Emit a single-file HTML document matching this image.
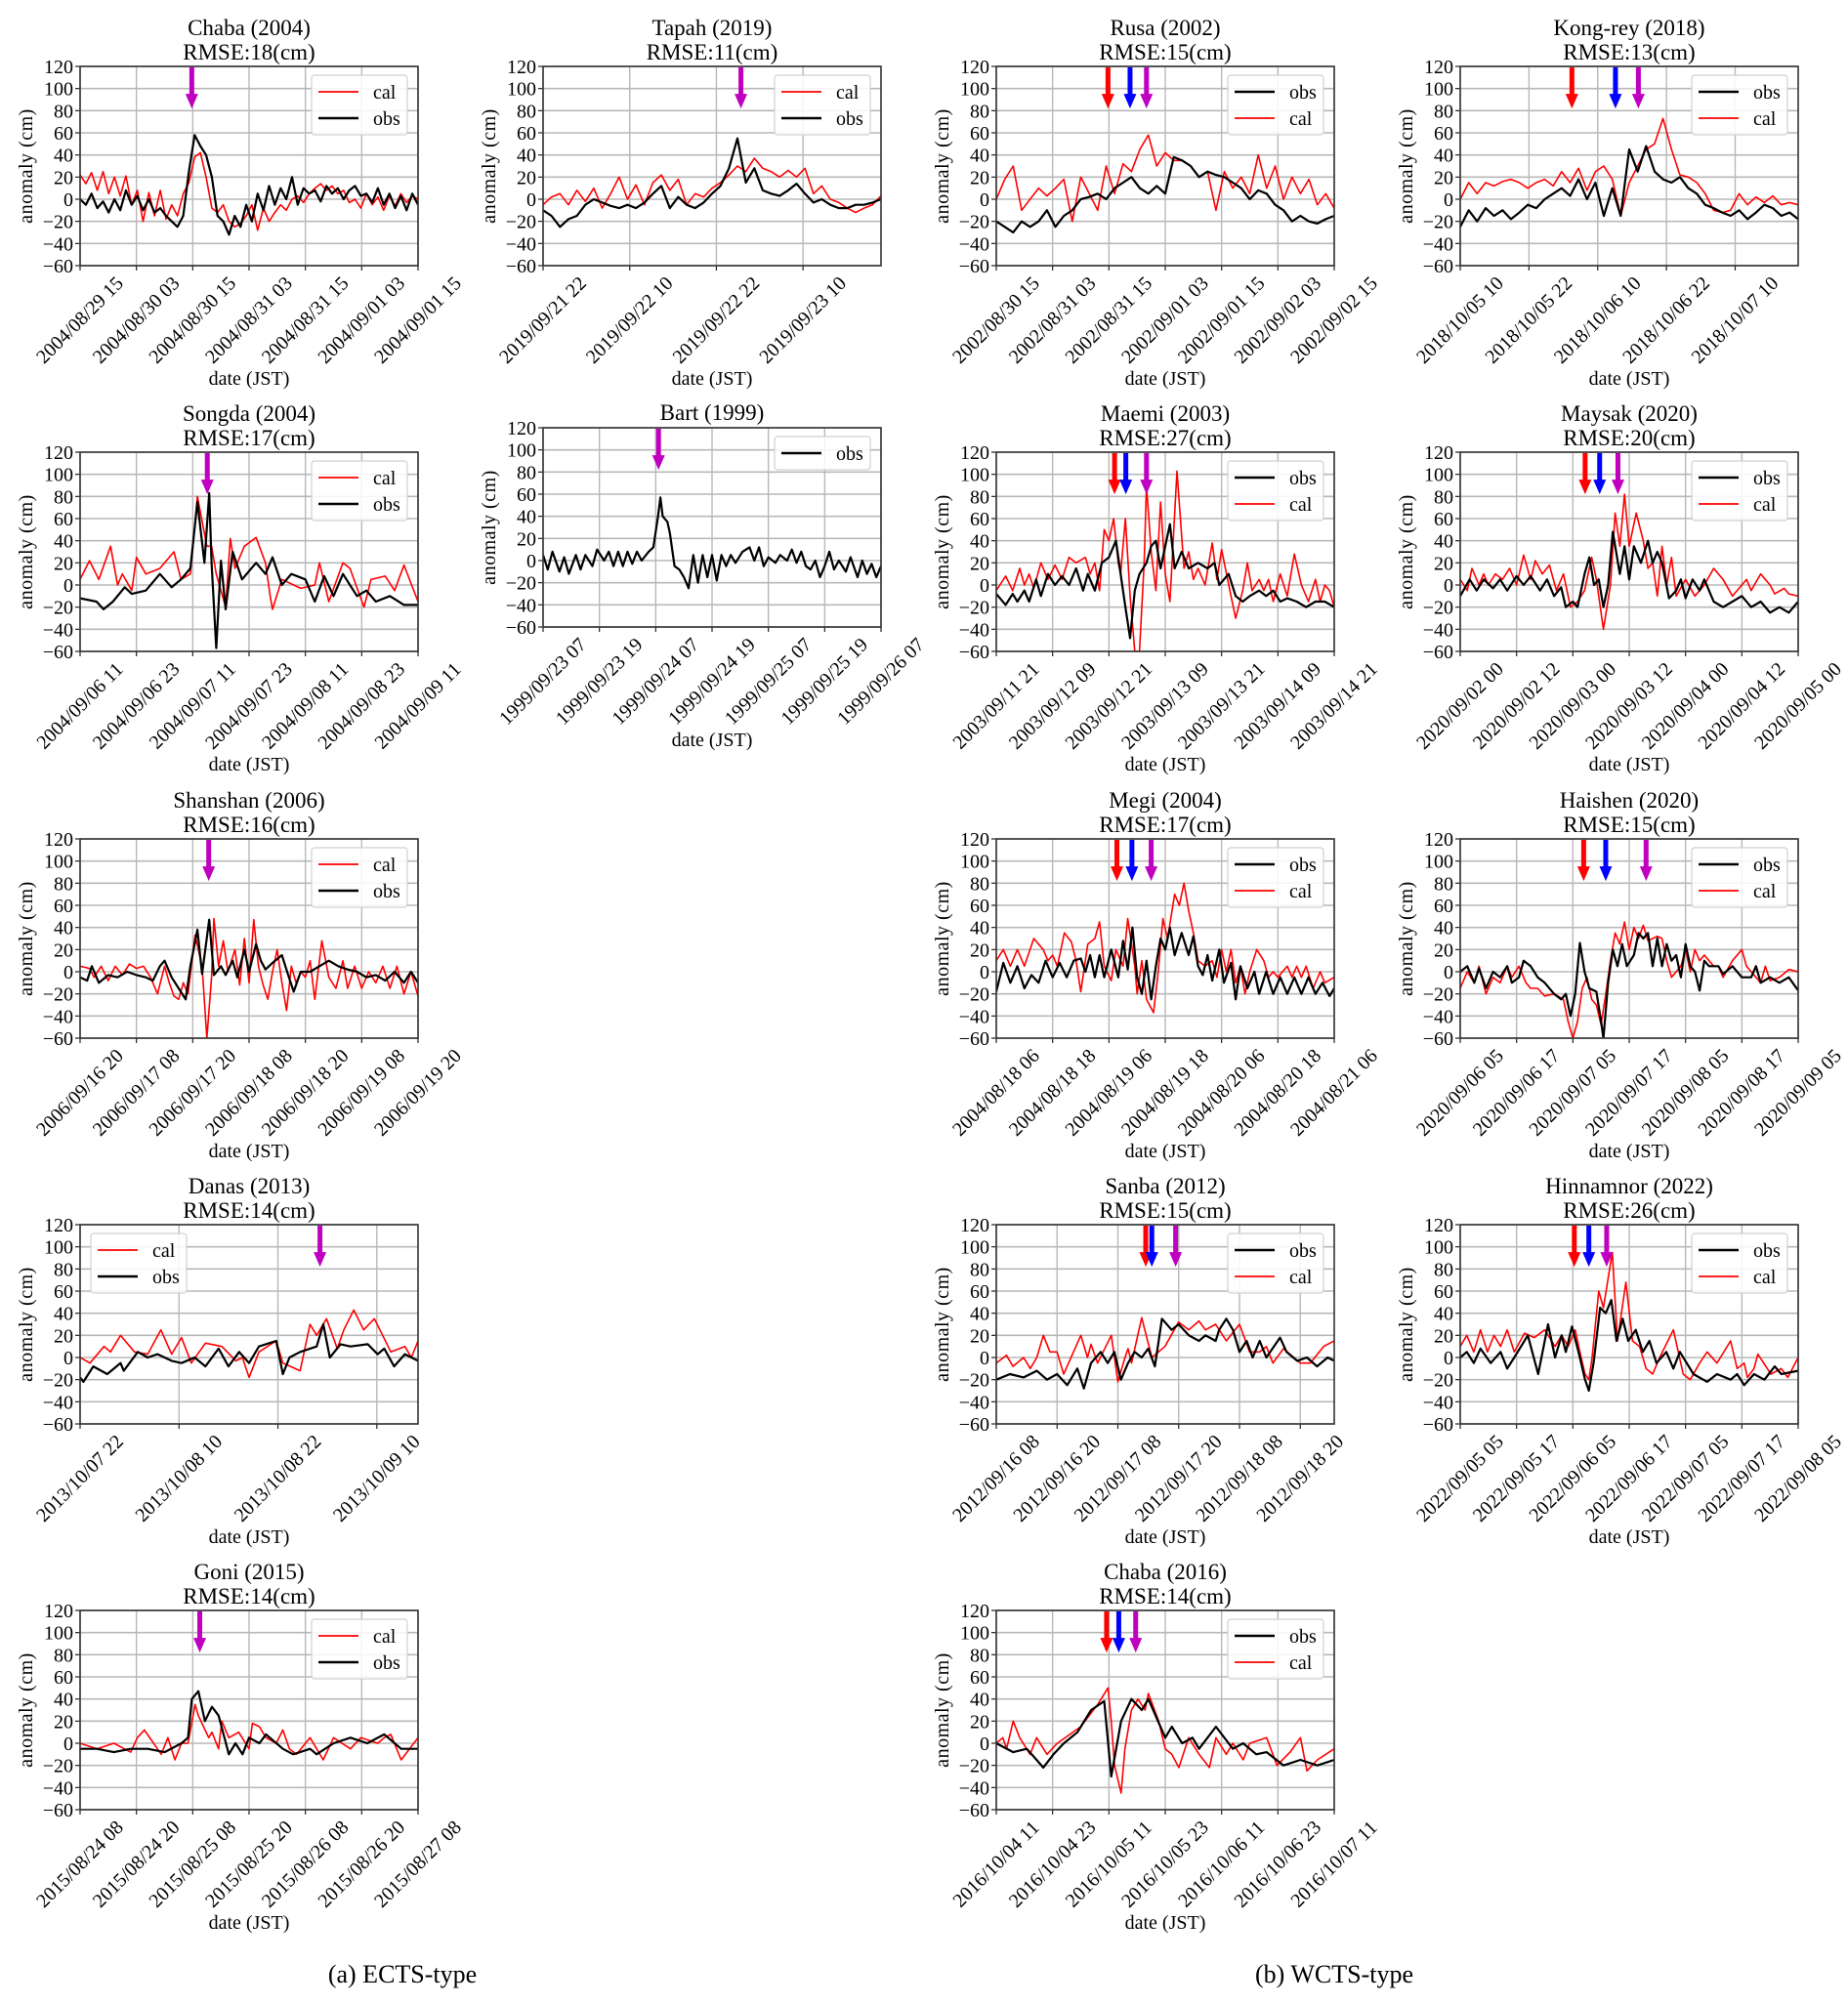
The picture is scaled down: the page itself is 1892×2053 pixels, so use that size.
<!DOCTYPE html>
<html><head><meta charset="utf-8"><style>
html,body{margin:0;padding:0;background:#fff;}
svg{display:block;font-family:"Liberation Serif","DejaVu Serif",serif;}
</style></head><body>
<svg id="fig" width="1892" height="2053" viewBox="0 0 1892 2053" xmlns="http://www.w3.org/2000/svg">
<rect width="1892" height="2053" fill="#fff"/>
<text x="412" y="2030" font-size="26" text-anchor="middle">(a) ECTS-type</text>
<text x="1366" y="2030" font-size="26" text-anchor="middle">(b) WCTS-type</text>
</svg>
<script>
// ---- data (hours from window start, anomaly cm) or evenly spaced values ----
const chaba04Cal=[22,14,24,8,25,5,20,3,21,-5,8,-20,6,-15,8,-18,-5,-15,5,15,38,42,20,-8,-12,-5,-20,-25,-22,-15,-5,-28,-8,-20,-12,-5,-10,0,3,-3,5,10,14,8,12,5,8,-3,0,-8,5,-5,2,-10,3,-6,5,-3,3,0];
const chaba04Obs=[0,-5,5,-8,-2,-12,0,-10,8,-5,3,-10,0,-12,-8,-15,-20,-25,-15,25,58,48,40,20,-15,-20,-32,-15,-25,-5,-20,5,-10,12,-5,10,0,20,-5,10,5,8,-2,12,5,10,0,8,12,3,5,-3,10,-5,5,-8,3,-10,5,-5];
const tapahCal=[-5,2,5,-5,8,-2,10,-8,5,20,0,13,-5,15,22,8,18,-5,5,2,10,15,22,30,25,37,28,25,20,26,20,28,5,12,0,-3,-8,-12,-8,-5,3];
const tapahObs=[-10,-15,-25,-18,-15,-5,0,-3,-6,-8,-5,-8,-3,5,12,-8,2,-5,-8,-3,5,12,28,55,15,28,8,5,3,8,14,5,-3,0,-5,-8,-8,-5,-5,-3,0];
const rusaCal=[0,18,30,-10,0,10,3,10,18,-20,20,5,-10,30,5,32,25,45,58,30,42,35,35,30,20,25,-10,25,10,20,5,40,10,30,0,20,5,18,-5,5,-8];
const rusaObs=[-20,-25,-30,-20,-25,-20,-10,-25,-15,-10,0,2,5,0,10,15,20,10,5,12,5,38,35,30,20,25,22,20,15,10,0,8,5,-5,-10,-20,-15,-20,-22,-18,-15];
const kongreyCal=[0,15,5,15,12,16,18,15,10,15,18,12,25,15,28,8,25,30,18,-15,15,30,45,50,73,45,22,20,15,5,-10,-12,-10,5,-5,2,-3,3,-5,-3,-5];
const kongreyObs=[-25,-10,-20,-8,-15,-10,-18,-12,-5,-8,0,5,10,3,18,0,15,-15,10,-15,45,25,48,25,18,15,20,10,5,-5,-8,-12,-15,-10,-18,-12,-5,-8,-15,-12,-18];
const songdaCal=[[0,5],[2,22],[4,5],[6.5,35],[8,0],[9,10],[11,-5],[12,25],[14,10],[17,15],[20,30],[21.5,5],[23.5,10],[25,80],[27,35],[28,35],[29,10],[31,-20],[32,42],[33,15],[35,35],[37.5,43],[39.5,20],[40.5,-10],[41,-22],[43,5],[47,-3],[50,0],[51,20],[53,-15],[56,20],[57.5,15],[60.5,-20],[62,5],[65,8],[67,-5],[69,18],[72,-15]];
const songdaObs=[[0,-12],[3.5,-15],[5,-22],[7,-15],[9.5,-2],[11,-8],[14,-5],[17,10],[19.5,-2],[21.5,5],[23.5,15],[25,75],[26.5,20],[27.5,83],[28,20],[29,-57],[30,22],[31,-22],[32.5,30],[34.5,5],[37.5,20],[39.5,10],[41,25],[43,0],[45,10],[48,5],[50,-15],[52,8],[54,-10],[56,10],[59,-10],[61,-5],[63,-15],[66,-10],[69,-18],[72,-18]];
const bartObs=[[0,5],[1,-8],[2,8],[3.5,-10],[4.5,3],[5.5,-12],[7,5],[8,-8],[9,5],[10.5,-5],[11.5,10],[13,0],[14,8],[15,-5],[16,8],[17,-5],[18,8],[19,-3],[20,8],[21,0],[22.5,8],[23.5,12],[24.5,40],[25,57],[25.5,40],[26.5,35],[27,25],[28,-5],[29,-8],[30,-15],[31,-25],[32,5],[33,-20],[34,5],[35,-15],[36,5],[37,-18],[38,5],[39,-5],[40,5],[41,-2],[42.5,8],[44,12],[45,0],[46,12],[47,-5],[48,3],[49.5,-2],[50.5,5],[52,0],[53,10],[54,-2],[55,8],[56,-5],[57,-8],[58,0],[59,-15],[60,-5],[61,8],[62,-8],[63,0],[64.5,-10],[65.5,3],[67,-15],[68,0],[69,-12],[70,-3],[71,-15],[72,-5]];
const maemiCal=[[0,-5],[2,8],[3.5,-5],[5,15],[6,0],[7,10],[8,-3],[9.5,20],[11,5],[12.5,18],[14,5],[15.5,25],[17,20],[19,25],[20,10],[21,20],[22,-5],[23,50],[24,40],[25,60],[26,20],[26.5,10],[27.5,60],[28.5,-10],[29.5,-60],[30.5,-60],[31.5,20],[32,90],[33,30],[34,-5],[35,75],[36,10],[37,-15],[38.5,103],[40,15],[41,30],[42,5],[43,15],[44.5,0],[46,38],[47,5],[48,32],[50,-10],[51,-30],[52.5,-5],[53.5,20],[54.5,-5],[56,5],[57,-5],[58,5],[59,-15],[60.5,10],[62,-10],[63.5,28],[65,0],[66.5,-15],[68,5],[69,-15],[70,0],[71,-5],[72,-20]];
const maemiObs=[[0,-8],[2,-18],[3.5,-8],[4.5,-15],[6,-5],[7,-15],[8.5,5],[9.5,-10],[11,10],[12.5,0],[14,8],[15.5,0],[17,15],[18.5,-5],[19.5,10],[21,-5],[22.5,20],[24,25],[25.5,40],[26.5,10],[27.5,-20],[28.5,-48],[29.5,-5],[30.5,10],[32,20],[33,35],[34,40],[35,15],[36,35],[37,55],[38,15],[39.5,30],[41,15],[43,20],[45,15],[46.5,20],[47.5,0],[49.5,10],[51,-10],[52.5,-15],[54,-10],[56,-5],[57.5,-10],[59,-5],[60.5,-15],[62,-12],[64,-15],[66,-20],[68,-15],[70,-15],[72,-20]];
const maysakCal=[[0,5],[1.5,-5],[2.5,15],[4,0],[5,10],[6,0],[7.5,10],[9,5],[10.5,15],[12,0],[13.5,27],[15,5],[16,22],[17.5,10],[19,18],[20.5,-5],[22,10],[23.5,-20],[25,-15],[26.5,-5],[28,25],[29,5],[30.5,-40],[32,0],[33,65],[34,35],[35,82],[36,35],[37.5,65],[39,40],[40,15],[41,20],[42,-10],[43,35],[44,0],[45,25],[46,-10],[48,5],[50,-10],[52,0],[54,15],[56,5],[58,-10],[60,0],[61,5],[62,-5],[64,10],[66,0],[67,-8],[69,-3],[70,-8],[72,-10]];
const maysakObs=[[0,-10],[2,5],[3.5,-5],[5,5],[7,-3],[8.5,5],[10,-5],[12,8],[13.5,0],[15,8],[17,-5],[18.5,5],[20,-10],[21.5,-2],[22.5,-20],[24,-15],[25,-20],[26.5,10],[27.5,25],[28.5,0],[29.5,5],[30.5,-20],[31.5,0],[32.5,48],[34,10],[35,35],[36,5],[37,35],[38.5,20],[40,40],[41,20],[42,30],[43,20],[44.5,-12],[46,-5],[47,5],[48,-12],[49.5,5],[51,-5],[52,5],[54,-15],[56,-20],[58,-15],[60,-10],[62,-20],[64,-15],[66,-25],[68,-20],[70,-25],[72,-15]];
const shanshanCal=[[0,5],[2,3],[3,-5],[4.5,5],[6,-8],[7.5,5],[9,-3],[10.5,7],[12,3],[13.5,5],[15,-5],[16.5,-20],[18,5],[19,-10],[20,-22],[21,-25],[22,-10],[23,-20],[24.5,33],[26,5],[27,-60],[28,-5],[28.5,48],[29.5,5],[30.5,28],[31.5,0],[33,20],[34,-12],[35,30],[36,-10],[37,47],[38,5],[39,-12],[40,-25],[41,0],[42,20],[43,-10],[44,-35],[45,5],[46,-10],[47,0],[48,-5],[49,10],[50,-25],[51.5,28],[53,-5],[54.5,-15],[56,10],[57,-15],[58.5,5],[60,-15],[61.5,0],[63,-10],[64.5,5],[66,-15],[67.5,5],[69,-20],[70.5,0],[72,-22]];
const shanshanObs=[[0,-5],[1.5,-8],[2.5,5],[4,-10],[6,-3],[8,-5],[10,0],[12,-3],[14,-5],[15.5,-8],[17,5],[18,10],[19.5,-5],[21,-15],[22.5,-25],[23.5,5],[25,38],[26,-2],[27.5,47],[28.5,-3],[30,5],[31,-3],[32.5,10],[33.5,-5],[35,20],[36,0],[37.5,25],[38.5,10],[39.5,2],[41,8],[43,15],[44.5,-5],[45.5,-18],[47,0],[49,0],[51,5],[53,10],[55,5],[57,2],[59,0],[61,-5],[63,-3],[65,-8],[67,0],[69,-10],[70.5,0],[72,-10]];
const danasCal=[[0,0],[1.2,-5],[2.9,10],[3.7,5],[4.9,20],[6.6,5],[8.2,3],[9.8,25],[11.1,3],[12.3,18],[13.5,-5],[15.2,13],[17.2,10],[18.9,-3],[19.7,0],[20.5,-18],[21.7,5],[23.8,15],[24.6,-5],[26.7,-12],[27.9,30],[28.7,20],[29.9,35],[31.2,8],[32,25],[33.2,43],[34.4,25],[35.7,35],[37.7,5],[39.4,10],[40.2,0],[41,15]];
const danasObs=[[0,-18],[0.4,-22],[1.6,-8],[3.3,-15],[4.9,-5],[5.3,-12],[7,5],[8.2,0],[9.4,3],[11.1,-3],[12.3,-5],[13.9,0],[15.2,-8],[16.8,8],[18,-8],[19.3,5],[20.5,-5],[21.7,10],[23.8,15],[24.6,-15],[25.4,0],[26.7,5],[28.7,10],[29.5,30],[30.3,0],[31.6,12],[32.8,10],[34.9,12],[36.1,3],[36.9,8],[38.1,-8],[39.4,3],[41,-3]];
const megiCal=[[0,10],[1.5,20],[3,5],[4.5,20],[6,5],[8,30],[10,20],[11,10],[12,15],[13,5],[14.5,35],[16,27],[17,10],[18,-18],[19.5,25],[21,30],[22,45],[23,5],[24.5,-8],[25.5,20],[27,5],[28,48],[29.5,5],[30,-20],[31,10],[32,-25],[33.5,-37],[34.5,0],[35.5,48],[36.5,30],[38,70],[39,60],[40,80],[41,55],[42,35],[43,10],[44.5,5],[46,10],[47,-5],[48,20],[49,0],[50,20],[51,-10],[52,5],[53,-20],[54,0],[55.5,20],[57,10],[58,-5],[59,0],[60,-5],[62,5],[63,-5],[64,5],[65,-5],[66,5],[67.5,-15],[69,0],[70,-10],[72,-5]];
const megiObs=[[0,-18],[1.5,8],[3,-10],[4.5,5],[6,-15],[7.5,-3],[9,-10],[10.5,10],[12,-5],[13.5,8],[15,-5],[16.5,10],[18,12],[19,0],[20,15],[21,-5],[22,15],[23,-5],[24.5,20],[26,-5],[27,28],[28,2],[29,40],[30,-5],[31,-20],[32,10],[33,-25],[34,5],[35,30],[36,20],[37,40],[38,15],[39.5,35],[41,15],[42,32],[43,5],[44,-3],[45,15],[46,-8],[47.5,20],[48.5,-10],[50,8],[51,-25],[52,5],[53.5,-15],[55,0],[56,-20],[57.5,0],[59,-20],[60.5,-5],[62,-20],[63.5,-5],[65,-20],[66.5,-5],[68,-20],[69.5,-10],[71,-22],[72,-15]];
const haishenCal=[[0,-15],[1.5,0],[3,-10],[4,5],[5.5,-20],[7,-5],[8.5,-10],[10,5],[11,-5],[12.5,5],[14,-10],[15,-15],[16.5,-15],[18,-22],[20,-20],[22,-25],[23,-45],[24,-60],[25,-45],[26,-15],[27,-5],[28,-25],[29,-30],[30,-48],[31,-20],[32,10],[33,35],[34,25],[35,45],[36,20],[37,40],[38,30],[39,42],[40,28],[41,30],[42,32],[43,30],[44,10],[45,-5],[46,0],[47,5],[48,20],[49,0],[50,20],[51,10],[52,15],[54,5],[55,5],[56,-5],[58,10],[60,20],[61,5],[62,0],[64,-10],[65,5],[66,-8],[68,-5],[70,2],[72,0]];
const haishenObs=[[0,0],[1.5,5],[3,-10],[4,3],[5.5,-15],[7,0],[8.5,-5],[10,5],[11,-10],[12.5,-5],[13.5,10],[15,5],[16.5,-5],[18,-10],[20,-20],[21.5,-25],[22.5,-20],[23.5,-40],[24.5,-20],[25.5,26],[26.5,0],[27.5,-15],[29,-18],[30,-45],[30.5,-60],[31.5,-10],[32.5,20],[33.5,5],[34.5,25],[35.5,5],[37,15],[38,35],[39,30],[40,35],[41,5],[42,30],[43,5],[44,25],[45,10],[46,15],[47,-5],[48,25],[49,5],[50,0],[51,-17],[52,10],[53,5],[55,5],[56,-2],[58,5],[59,0],[60,-5],[62,-5],[63,5],[64,-10],[66,-5],[68,-10],[70,-5],[72,-17]];
const sanbaCal=[[0,-5],[2,2],[3.3,-8],[5.4,0],[6.7,-10],[8,0],[9.3,20],[10.6,5],[12,5],[13.3,-15],[16.7,20],[18,0],[18.7,12],[20,-5],[22.7,20],[24,-22],[25.4,0],[26,8],[26.7,-5],[28.7,36],[30.7,0],[33.3,10],[36,32],[38,25],[40,33],[41.3,25],[43.3,30],[45.4,15],[48,30],[50,5],[52,5],[53.3,10],[54.6,-5],[56.7,8],[58.7,0],[60,-5],[62,-5],[64.6,10],[66.7,15]];
const sanbaObs=[[0,-20],[2.7,-15],[5.4,-18],[8,-12],[10,-20],[12,-15],[14,-25],[16,-10],[17.3,-28],[18.7,-5],[20.6,5],[22,-5],[23.3,5],[24.6,-20],[26,-5],[27.3,5],[28.7,0],[30,8],[31.3,-8],[32.7,35],[34.6,25],[36,30],[38,20],[40,15],[41.3,20],[43.3,15],[44,25],[45.4,35],[46.7,25],[48,5],[49.4,15],[50.6,0],[52,15],[53.3,0],[56,18],[57.3,5],[59.4,-3],[61.3,0],[63.3,-8],[65.4,0],[66.7,-3]];
const hinnamnorCal=[[0,10],[1.4,20],[2.9,5],[4.3,25],[5.8,5],[7.2,20],[8.6,10],[10,25],[11.5,5],[13.7,22],[15.8,18],[18,25],[20.2,10],[21.6,20],[23,10],[24.5,25],[25.5,5],[26.6,-15],[27.4,-20],[28.1,0],[29.5,60],[30.5,45],[32.4,95],[33.5,15],[35.3,68],[36.7,15],[38.2,10],[39.6,-10],[41,-15],[42.5,0],[45.4,25],[47.5,-15],[49,-20],[51,-5],[52.6,5],[54.7,-5],[57.6,15],[59,-10],[60.5,-5],[61.2,-18],[62.6,-10],[63.4,3],[66.2,-15],[68.4,-10],[69.8,-18],[72,0]];
const hinnamnorObs=[[0,0],[1.4,5],[2.9,-5],[4.3,8],[6.5,-5],[8.6,5],[10,-10],[11.5,0],[14.4,20],[16.6,-15],[18.7,30],[20.2,0],[21.6,20],[22.5,5],[23.8,28],[25.2,5],[26.6,-20],[27.4,-30],[28.4,-5],[29.8,45],[31,40],[32.2,52],[33.3,15],[34.6,35],[35.8,15],[37.4,25],[38.9,5],[40.3,15],[41.8,-5],[43.9,5],[45.4,-10],[46.8,5],[49.7,-15],[52.6,-22],[54.7,-15],[57.6,-20],[59,-15],[60.5,-25],[62.6,-15],[64.8,-20],[67,-8],[68.4,-15],[72,-12]];
const goniCal=[[0,0],[3.6,-5],[7.2,0],[10.8,-8],[12.2,5],[13.7,12],[17.3,-10],[18.7,5],[20.2,-15],[21.6,0],[23,0],[24.5,35],[25.2,25],[27.4,5],[28.1,10],[29.5,-5],[30.2,20],[31.7,5],[33.8,10],[36,-5],[36.7,18],[38.2,15],[39.6,5],[41.8,0],[43.2,12],[44.6,-5],[46.1,-10],[49,5],[51.8,-15],[54,5],[57.6,-5],[59.8,5],[63.4,0],[64.8,5],[66.2,8],[68.4,-15],[72,5]];
const goniObs=[[0,-5],[3.6,-5],[7.2,-8],[10.8,-5],[14.4,-5],[18,-8],[21.6,0],[23,5],[23.8,40],[25.2,47],[26.6,20],[28.1,33],[29.5,25],[31.7,-10],[33.1,0],[34.6,-10],[36,5],[38.2,0],[39.6,8],[43.2,-5],[45.4,-10],[49,-5],[50.4,-10],[54,0],[57.6,5],[61.2,0],[64.8,8],[68.4,-5],[72,-5]];
const chaba16Cal=[[0,0],[1.4,5],[2.2,-5],[3.6,20],[5,5],[7.2,-10],[8.6,5],[10.8,-10],[13,0],[18,15],[21.6,35],[23.8,50],[24.5,20],[25.2,-20],[26.6,-45],[27.4,-5],[28.8,30],[30.2,40],[31.7,30],[32.4,45],[34.6,20],[36,-5],[37.4,-10],[38.9,-22],[41,5],[43.2,-10],[45.4,-22],[46.8,5],[49,-10],[50.4,0],[52.6,-15],[54,0],[57.6,5],[59.8,-20],[62.6,-8],[64.8,5],[66.2,-25],[68.4,-15],[72,-5]];
const chaba16Obs=[[0,0],[3.6,-8],[6.5,-5],[8.6,-15],[10,-22],[12.2,-10],[14.4,0],[17.3,10],[20.2,30],[23,38],[24.5,-30],[26.6,20],[28.8,40],[31,30],[32.4,40],[36,5],[37.4,15],[39.6,0],[41.8,5],[43.2,-5],[46.8,15],[50.4,-5],[52.6,0],[55.4,-10],[57.6,-8],[61.2,-20],[64.8,-15],[68.4,-20],[72,-15]];
// tick labels
const chaba04Ticks=["2004/08/29 15","2004/08/30 03","2004/08/30 15","2004/08/31 03","2004/08/31 15","2004/09/01 03","2004/09/01 15"];
const tapahTicks=["2019/09/21 22","2019/09/22 10","2019/09/22 22","2019/09/23 10"];
const rusaTicks=["2002/08/30 15","2002/08/31 03","2002/08/31 15","2002/09/01 03","2002/09/01 15","2002/09/02 03","2002/09/02 15"];
const kongreyTicks=["2018/10/05 10","2018/10/05 22","2018/10/06 10","2018/10/06 22","2018/10/07 10"];
const songdaTicks=["2004/09/06 11","2004/09/06 23","2004/09/07 11","2004/09/07 23","2004/09/08 11","2004/09/08 23","2004/09/09 11"];
const bartTicks=["1999/09/23 07","1999/09/23 19","1999/09/24 07","1999/09/24 19","1999/09/25 07","1999/09/25 19","1999/09/26 07"];
const maemiTicks=["2003/09/11 21","2003/09/12 09","2003/09/12 21","2003/09/13 09","2003/09/13 21","2003/09/14 09","2003/09/14 21"];
const maysakTicks=["2020/09/02 00","2020/09/02 12","2020/09/03 00","2020/09/03 12","2020/09/04 00","2020/09/04 12","2020/09/05 00"];
const shanshanTicks=["2006/09/16 20","2006/09/17 08","2006/09/17 20","2006/09/18 08","2006/09/18 20","2006/09/19 08","2006/09/19 20"];
const megiTicks=["2004/08/18 06","2004/08/18 18","2004/08/19 06","2004/08/19 18","2004/08/20 06","2004/08/20 18","2004/08/21 06"];
const haishenTicks=["2020/09/06 05","2020/09/06 17","2020/09/07 05","2020/09/07 17","2020/09/08 05","2020/09/08 17","2020/09/09 05"];
const danasTicks=["2013/10/07 22","2013/10/08 10","2013/10/08 22","2013/10/09 10"];
const sanbaTicks=["2012/09/16 08","2012/09/16 20","2012/09/17 08","2012/09/17 20","2012/09/18 08","2012/09/18 20"];
const hinnamnorTicks=["2022/09/05 05","2022/09/05 17","2022/09/06 05","2022/09/06 17","2022/09/07 05","2022/09/07 17","2022/09/08 05"];
const goniTicks=["2015/08/24 08","2015/08/24 20","2015/08/25 08","2015/08/25 20","2015/08/26 08","2015/08/26 20","2015/08/27 08"];
const chaba16Ticks=["2016/10/04 11","2016/10/04 23","2016/10/05 11","2016/10/05 23","2016/10/06 11","2016/10/06 23","2016/10/07 11"];
const yTicks=[-60,-40,-20,0,20,40,60,80,100,120];

const NS="http://www.w3.org/2000/svg";
const svg=document.getElementById('fig');
const COLX=[82,556,1020,1495], W=346, H=204;
const ROWY=[68,463,859,1254,1649];
function mk(tag,attrs,parent){const e=document.createElementNS(NS,tag);for(const k in attrs)e.setAttribute(k,attrs[k]);(parent||svg).appendChild(e);return e;}

const panels=[
{id:'chaba-2004',t:'Chaba (2004)',r:'18',c:0,row:0,win:72,ticks:chaba04Ticks,arrows:[[23.8,'#c000c0']],leg:['cal','obs'],cal:chaba04Cal,obs:chaba04Obs},
{id:'tapah-2019',t:'Tapah (2019)',r:'11',c:1,row:0,win:46.8,ticks:tapahTicks,arrows:[[27.4,'#c000c0']],leg:['cal','obs'],cal:tapahCal,obs:tapahObs},
{id:'rusa-2002',t:'Rusa (2002)',r:'15',c:2,row:0,win:72,ticks:rusaTicks,arrows:[[23.8,'#f00'],[28.5,'#00f'],[32,'#c000c0']],leg:['obs','cal'],cal:rusaCal,obs:rusaObs},
{id:'kongrey-2018',t:'Kong-rey (2018)',r:'13',c:3,row:0,win:59,ticks:kongreyTicks,arrows:[[19.5,'#f00'],[27.1,'#00f'],[31.1,'#c000c0']],leg:['obs','cal'],cal:kongreyCal,obs:kongreyObs},
{id:'songda-2004',t:'Songda (2004)',r:'17',c:0,row:1,win:72,ticks:songdaTicks,arrows:[[27.1,'#c000c0']],leg:['cal','obs'],cal:songdaCal,obs:songdaObs},
{id:'bart-1999',t:'Bart (1999)',r:null,c:1,row:1,win:72,ticks:bartTicks,arrows:[[24.6,'#c000c0']],leg:['obs'],cal:null,obs:bartObs,top:438},
{id:'maemi-2003',t:'Maemi (2003)',r:'27',c:2,row:1,win:72,ticks:maemiTicks,arrows:[[25.2,'#f00'],[27.6,'#00f'],[32,'#c000c0']],leg:['obs','cal'],cal:maemiCal,obs:maemiObs},
{id:'maysak-2020',t:'Maysak (2020)',r:'20',c:3,row:1,win:72,ticks:maysakTicks,arrows:[[26.6,'#f00'],[29.7,'#00f'],[33.6,'#c000c0']],leg:['obs','cal'],cal:maysakCal,obs:maysakObs},
{id:'shanshan-2006',t:'Shanshan (2006)',r:'16',c:0,row:2,win:72,ticks:shanshanTicks,arrows:[[27.4,'#c000c0']],leg:['cal','obs'],cal:shanshanCal,obs:shanshanObs},
{id:'megi-2004',t:'Megi (2004)',r:'17',c:2,row:2,win:72,ticks:megiTicks,arrows:[[25.7,'#f00'],[28.9,'#00f'],[33,'#c000c0']],leg:['obs','cal'],cal:megiCal,obs:megiObs},
{id:'haishen-2020',t:'Haishen (2020)',r:'15',c:3,row:2,win:72,ticks:haishenTicks,arrows:[[26.3,'#f00'],[31,'#00f'],[39.6,'#c000c0']],leg:['obs','cal'],cal:haishenCal,obs:haishenObs},
{id:'danas-2013',t:'Danas (2013)',r:'14',c:0,row:3,win:41,ticks:danasTicks,arrows:[[29.1,'#c000c0']],leg:['cal','obs'],legLeft:true,cal:danasCal,obs:danasObs},
{id:'sanba-2012',t:'Sanba (2012)',r:'15',c:2,row:3,win:66.7,ticks:sanbaTicks,arrows:[[29.5,'#f00'],[30.7,'#00f'],[35.4,'#c000c0']],leg:['obs','cal'],cal:sanbaCal,obs:sanbaObs},
{id:'hinnamnor-2022',t:'Hinnamnor (2022)',r:'26',c:3,row:3,win:72,ticks:hinnamnorTicks,arrows:[[24.3,'#f00'],[27.4,'#00f'],[31.2,'#c000c0']],leg:['obs','cal'],cal:hinnamnorCal,obs:hinnamnorObs},
{id:'goni-2015',t:'Goni (2015)',r:'14',c:0,row:4,win:72,ticks:goniTicks,arrows:[[25.5,'#c000c0']],leg:['cal','obs'],cal:goniCal,obs:goniObs},
{id:'chaba-2016',t:'Chaba (2016)',r:'14',c:2,row:4,win:72,ticks:chaba16Ticks,arrows:[[23.5,'#f00'],[26.1,'#00f'],[29.7,'#c000c0']],leg:['obs','cal'],cal:chaba16Cal,obs:chaba16Obs}
];

function toPts(series,win){
  if(typeof series[0]==='number'){const n=series.length;return series.map((v,i)=>[i/(n-1)*win,v]);}
  return series;
}

panels.forEach(p=>{
  const L=COLX[p.c], T=(p.top!==undefined?p.top:ROWY[p.row]), R=L+W, B=T+H;
  const xs=h=>L+h/p.win*W;
  const ys=v=>B-(v+60)/180*H;
  const g=mk('g',{});
  
  
  const t1=mk('text',{x:L+W/2,y:(p.r?T-32:T-8),'font-size':23,'text-anchor':'middle'},g);
  t1.textContent=p.t;
  
  
  if(p.r){const t2=mk('text',{x:L+W/2,y:T-7,'font-size':23,'text-anchor':'middle'},g);
    t2.textContent='RMSE:'+p.r+'(cm)';
    
    }
  yTicks.forEach(v=>{
    const y=ys(v);
    const gl=mk('line',{x1:L,x2:R,y1:y,y2:y,stroke:'#b8b8b8','stroke-width':1.6},g);
    
    
    mk('line',{x1:L-5,x2:L,y1:y,y2:y,stroke:'#222','stroke-width':1.2},g);
    const tl=mk('text',{x:L-7,y:y+7,'font-size':20,'text-anchor':'end'},g);
    tl.textContent=(v<0?'\u2212'+(-v):String(v));
    
    
  });
  p.ticks.forEach((lab,i)=>{
    const x=xs(i*12);
    const vl=mk('line',{x1:x,x2:x,y1:T,y2:B,stroke:'#b8b8b8','stroke-width':1.4},g);
    
    
    mk('line',{x1:x,x2:x,y1:B,y2:B+5,stroke:'#222','stroke-width':1.2},g);
    const cy=B+56;
    const tl=mk('text',{x:x,y:cy,'font-size':20,'text-anchor':'middle','dominant-baseline':'central',transform:'rotate(-45 '+x+' '+cy+')'},g);
    tl.textContent=lab;
    
    
  });
  const cp=mk('clipPath',{id:'clip-'+p.id},g);
  mk('rect',{x:L,y:T,width:W,height:H},cp);
  const draw=(series,color,sw,name)=>{
    const pts=toPts(series,p.win).map(q=>xs(q[0]).toFixed(1)+','+ys(q[1]).toFixed(1)).join(' ');
    const pl=mk('polyline',{points:pts,fill:'none',stroke:color,'stroke-width':sw,'stroke-linejoin':'round','clip-path':'url(#clip-'+p.id+')'},g);
    
    
  };
  if(p.cal) draw(p.cal,'#ff0000',1.6,'cal-line');
  draw(p.obs,'#000',2.2,'obs-line');
  p.arrows.forEach(a=>{
    const x=xs(a[0]);const tip=ys(82);
    const ar=mk('g',{},g);
    
    
    mk('rect',{x:x-2.5,y:T+1,width:5,height:tip-T-14,fill:a[1]},ar);
    mk('polygon',{points:(x-6.5)+','+(tip-15)+' '+(x+6.5)+','+(tip-15)+' '+x+','+tip,fill:a[1]},ar);
  });
  const fr=mk('rect',{x:L,y:T,width:W,height:H,fill:'none',stroke:'#333','stroke-width':1.6},g);
  
  
  const n=p.leg.length, bw=98, bh=(n===1?34:61);
  const bx=p.legLeft?L+11:R-109, by=T+9;
  const lg=mk('g',{},g);
  
  
  mk('rect',{x:bx,y:by,width:bw,height:bh,rx:3,fill:'#fff','fill-opacity':0.85,stroke:'#d0d0d0','stroke-width':1.2},lg);
  p.leg.forEach((k,i)=>{
    const ey=by+17+i*27;
    const e=mk('g',{},lg);
    
    
    mk('line',{x1:bx+7,x2:bx+48,y1:ey,y2:ey,stroke:k==='cal'?'#ff0000':'#000','stroke-width':k==='cal'?1.8:2.4},e);
    const tx=mk('text',{x:bx+63,y:ey+7,'font-size':20},e);
    tx.textContent=k;
  });
  const yl=mk('text',{x:L-55,y:T+H/2,'font-size':20,'text-anchor':'middle','letter-spacing':'0.5','dominant-baseline':'central',transform:'rotate(-90 '+(L-55)+' '+(T+H/2)+')'},g);
  yl.textContent='anomaly (cm)';
  
  
  const xl=mk('text',{x:L+W/2,y:B+122,'font-size':20,'text-anchor':'middle'},g);
  xl.textContent='date (JST)';
  
  
});
</script>
</body></html>
